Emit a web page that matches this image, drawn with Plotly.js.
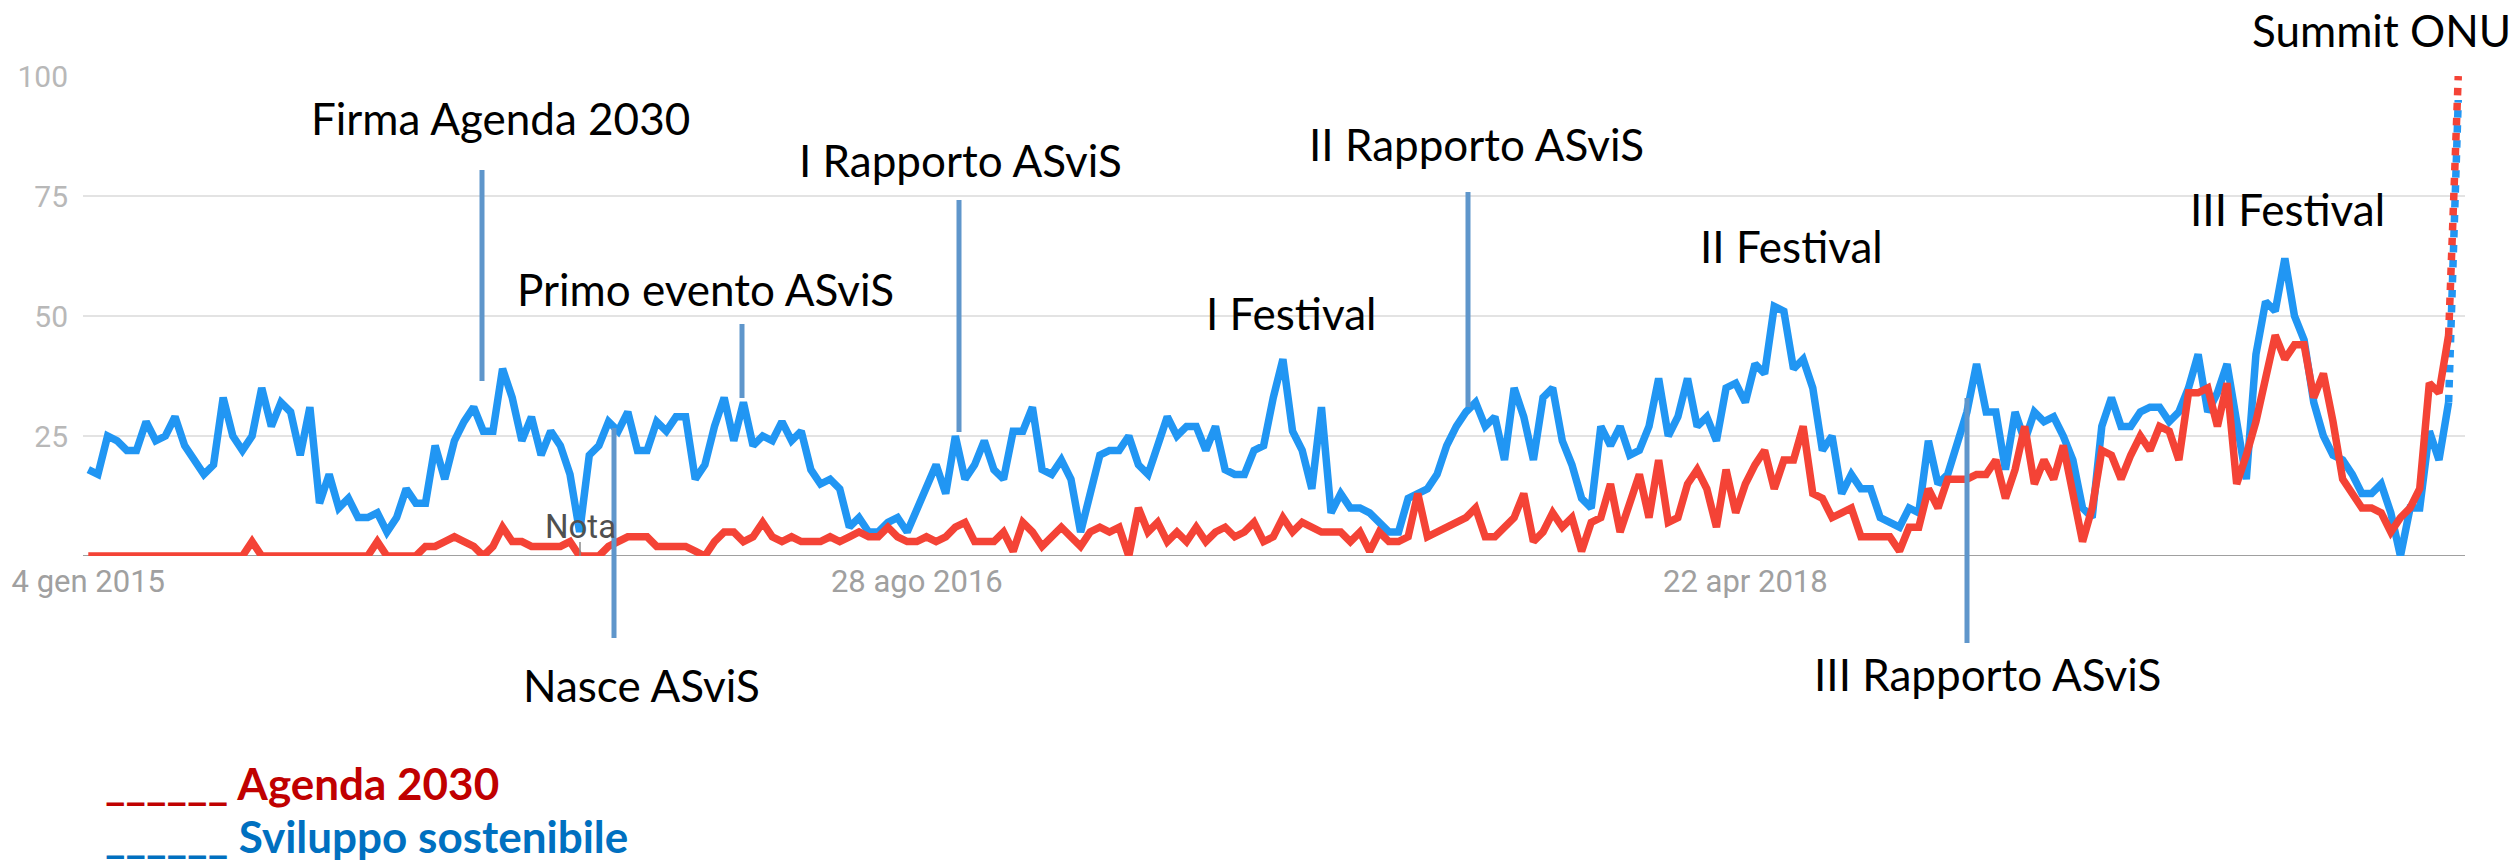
<!DOCTYPE html>
<html>
<head>
<meta charset="utf-8">
<script src="https://cdn.plot.ly/plotly-3.0.1.min.js"></script>
<style>
html,body{margin:0;padding:0;background:#ffffff;}
#chart{width:2519px;height:862px;}
</style>
</head>
<body>
<div id="chart"></div>
<script>
// ---- data (Google Trends weekly interest, 0-100) ----
const firstWeek = '2015-01-04';
const sviluppoSostenibile = [
 18,17,25,24,22,22,28,24,25,29,
 23,20,17,19,33,25,22,25,35,27,
 32,30,21,31,11,17,10,12,8,8,
 9,5,8,14,11,11,23,16,24,28,
 31,26,26,39,33,24,29,21,26,23,
 17,5,21,23,28,26,30,22,22,28,
 26,29,29,16,19,27,33,24,32,23,
 25,24,28,24,26,18,15,16,14,6,
 8,5,5,7,8,5,10,15,19,13,
 25,16,19,24,18,16,26,26,31,18,
 17,20,16,5,13,21,22,22,25,19,
 17,23,29,25,27,27,22,27,18,17,
 17,22,23,33,41,26,22,14,31,9,
 13,10,10,9,7,5,5,12,13,14,
 17,23,27,30,32,27,29,20,35,29,
 20,33,35,24,19,12,10,27,23,27,
 21,22,27,37,25,29,37,27,29,24,
 35,36,32,40,38,52,51,39,41,35,
 22,25,13,17,14,14,8,7,6,10,
 9,24,15,17,24,30,40,30,30,18,
 30,24,30,28,29,25,20,10,8,27,
 33,27,27,30,31,31,28,30,35,42,
 30,34,40,28,16,42,53,51,62,50,
 45,32,25,21,20,17,13,13,15,9,
 0,10,10,26,20,32,95
];
const agenda2030 = [
 0,0,0,0,0,0,0,0,0,0,
 0,0,0,0,0,0,0,3,0,0,
 0,0,0,0,0,0,0,0,0,0,
 3,0,0,0,0,2,2,3,4,3,
 2,0,2,6,3,3,2,2,2,2,
 3,0,0,0,2,3,4,4,4,2,
 2,2,2,1,0,3,5,5,3,4,
 7,4,3,4,3,3,3,4,3,4,
 5,4,4,6,4,3,3,4,3,4,
 6,7,3,3,3,5,1,7,5,2,
 4,6,4,2,5,6,5,6,0,10,
 5,7,3,5,3,6,3,5,6,4,
 5,7,3,4,8,5,7,6,5,5,
 5,3,5,1,5,3,3,4,13,4,
 5,6,7,8,10,4,4,6,8,13,
 3,5,9,6,8,1,7,8,15,5,
 11,17,8,20,7,8,15,18,14,6,
 18,9,15,19,22,14,20,20,27,13,
 12,8,9,10,4,4,4,4,1,6,
 6,14,10,16,16,16,17,17,20,12,
 18,27,15,20,16,23,13,3,10,22,
 21,16,21,25,22,27,26,20,34,34,
 35,27,36,15,21,28,37,46,41,44,
 44,33,38,28,16,13,10,10,9,5,
 8,10,14,36,34,46,100
];
const xTickDates  = ['2015-01-04', '2016-08-28', '2018-04-22'];
const xTickLabels = ['4 gen 2015', '28 ago 2016', '22 apr 2018'];
const yTickValues = [25, 50, 75, 100];
const yTickLabels = ['25', '50', '75', '100'];
const seriesNames = ['Agenda 2030', 'Sviluppo sostenibile'];
const eventLabels = ['Firma Agenda 2030', 'Primo evento ASviS', 'Nasce ASviS', 'I Rapporto ASviS',
  'I Festival', 'II Rapporto ASviS', 'II Festival', 'III Rapporto ASviS', 'III Festival', 'Summit ONU'];

// ---- styling / geometry ----
const W = 2519, H = 862;
const M = {l: 83, r: 54, t: 76, b: 306};
const PW = W - M.l - M.r, PH = H - M.t - M.b;
const pxX = v => (v - M.l) / PW;
const pxY = v => (H - M.b - v) / PH;
const RED = '#f44336', BLUE = '#2196f3', MARK = '#5f96cb';
const DAY = 86400000;
const t0 = Date.parse(firstWeek + 'T00:00:00Z');
const fmt = ms => new Date(ms).toISOString().slice(0, 19).replace('T', ' ');
const weeks = sviluppoSostenibile.map((_, i) => fmt(t0 + i * 7 * DAY).slice(0, 10));
const last = weeks.length - 1; // last week is partial -> dotted

function series(values, color) {
  return [
    {x: weeks.slice(0, last), y: values.slice(0, last), type: 'scatter', mode: 'lines',
     line: {color: color, width: 7.5}, hoverinfo: 'skip'},
    {x: weeks.slice(last - 1), y: values.slice(last - 1), type: 'scatter', mode: 'lines',
     line: {color: color, width: 7.5, dash: 'dot'}, hoverinfo: 'skip'}
  ];
}
const data = [...series(sviluppoSostenibile, BLUE), ...series(agenda2030, RED)];

// event label placement (pixel centres) and marker lines (pixel x, y0, y1)
const labelPos = [
  [500, 118], [705, 289], [641, 685], [961, 160], [1291, 313],
  [1476, 144], [1791, 246], [1988, 674], [2287, 209], [2381, 30]
];
const markLines = [[482, 170, 381], [742, 324, 398], [614, 428, 638], [959, 200, 432],
  [1468, 192, 407], [1967, 398, 643]];

const annotations = eventLabels.map((t, i) => ({
  text: t, xref: 'paper', yref: 'paper', x: pxX(labelPos[i][0]), y: pxY(labelPos[i][1]),
  xanchor: 'center', yanchor: 'middle', showarrow: false,
  font: {family: 'Lato, "Open Sans", sans-serif', size: 44, color: '#000000'}
}));
annotations.push({
  text: 'Nota', xref: 'paper', yref: 'paper', x: pxX(580), y: pxY(526),
  xanchor: 'center', yanchor: 'middle', showarrow: false,
  font: {family: 'Roboto, sans-serif', size: 33, color: '#505050'}
});
annotations.push({
  text: '______ ' + seriesNames[0], xref: 'paper', yref: 'paper', x: pxX(103), y: pxY(783),
  xanchor: 'left', yanchor: 'middle', showarrow: false,
  font: {family: 'Lato, sans-serif', size: 44, color: '#c00000', weight: 'bold'}
});
annotations.push({
  text: '______ ' + seriesNames[1], xref: 'paper', yref: 'paper', x: pxX(103), y: pxY(836),
  xanchor: 'left', yanchor: 'middle', showarrow: false,
  font: {family: 'Lato, sans-serif', size: 44, color: '#0070c0', weight: 'bold'}
});

const shapes = [{
  type: 'line', xref: 'paper', yref: 'y', x0: 0, x1: 1, y0: 0, y1: 0,
  line: {color: '#a0a0a0', width: 2}, layer: 'below'
}];
markLines.forEach(m => shapes.push({
  type: 'line', xref: 'paper', yref: 'paper', x0: pxX(m[0]), x1: pxX(m[0]),
  y0: pxY(m[1]), y1: pxY(m[2]), line: {color: MARK, width: 5}, layer: 'above'
}));
shapes.push({
  type: 'line', xref: 'paper', yref: 'paper', x0: pxX(580), x1: pxX(580),
  y0: pxY(542), y1: pxY(556), line: {color: '#888888', width: 1.5}, layer: 'above'
});

const layout = {
  width: W, height: H, margin: M, showlegend: false,
  paper_bgcolor: '#ffffff', plot_bgcolor: '#ffffff',
  xaxis: {
    type: 'date', range: [fmt(t0 - 0.55 * 7 * DAY), fmt(t0 + 246.7 * 7 * DAY)],
    tickmode: 'array', tickvals: xTickDates, ticktext: xTickLabels,
    showgrid: false, zeroline: false, showline: false, ticks: '',
    ticklabelstandoff: 4,
    tickfont: {family: 'Roboto, sans-serif', size: 31, color: '#a0a0a0'}
  },
  yaxis: {
    range: [0, 100], tickmode: 'array', tickvals: yTickValues, ticktext: yTickLabels,
    showgrid: true, gridcolor: '#e3e3e3', gridwidth: 2, zeroline: false, showline: false,
    ticks: '', ticklabelstandoff: 14,
    tickfont: {family: 'Roboto, sans-serif', size: 30, color: '#b8b8b8'}
  },
  shapes: shapes,
  annotations: annotations
};

Plotly.newPlot('chart', data, layout, {staticPlot: true, displayModeBar: false});
</script>
</body>
</html>
